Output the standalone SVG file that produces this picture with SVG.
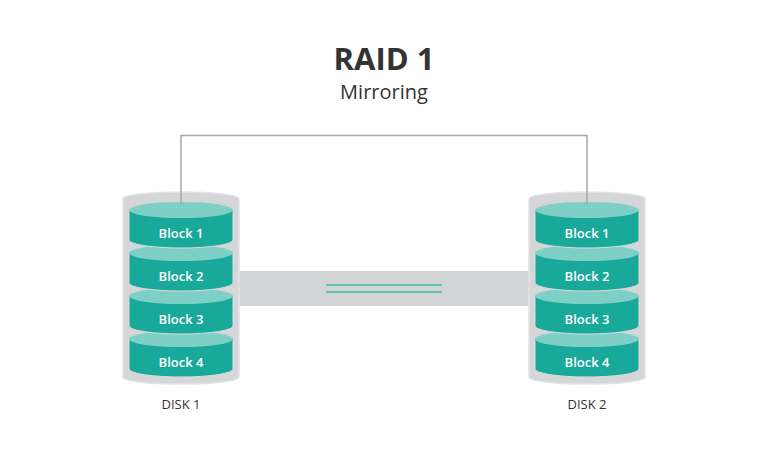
<svg xmlns="http://www.w3.org/2000/svg" width="768" height="450" viewBox="0 0 768 450">
<style>
.title{font-family:"Open Sans","Liberation Sans",sans-serif;font-weight:bold;font-size:31px;fill:#333333;text-anchor:middle}
.sub{font-family:"Open Sans","Liberation Sans",sans-serif;font-size:20px;fill:#333333;text-anchor:middle}
.blk{font-family:"Open Sans","Liberation Sans",sans-serif;font-size:13px;font-weight:600;fill:#ffffff;text-anchor:middle}
.dlabel{font-family:"Open Sans","Liberation Sans",sans-serif;font-size:13px;fill:#333333;text-anchor:middle}
.shell{fill:#d5d6d8;stroke:#e2e3e4;stroke-width:1.5}
.body{fill:#18a99b;stroke:#dcdcdc;stroke-width:1}
.top{fill:#7ecfc6}
.conn{fill:none;stroke:#a8a8a8;stroke-width:1.5}
.mirror{stroke:#5cc1b6;stroke-width:2.2}
</style>
<defs>
<g id="block">
<path class="body" d="M-52,0 V30 A52,8 0 0 0 52,30 V0 Z"/>
<ellipse class="top" cx="0" cy="0" rx="52" ry="8"/>
</g>
</defs>
<rect width="768" height="450" fill="#ffffff"/>
<text class="title" x="384" y="70">RAID 1</text>
<text class="sub" x="384" y="99">Mirroring</text>
<rect id="band" x="236" y="271" width="296" height="35" fill="#d3d4d6"/>
<g id="disk1">
<path class="shell" d="M123,199 A58,7 0 0 1 239,199 V377 A58,7 0 0 1 123,377 Z"/>
<use href="#block" x="181" y="339"/>
<use href="#block" x="181" y="296"/>
<use href="#block" x="181" y="253"/>
<use href="#block" x="181" y="210"/>
<text class="blk" x="181" y="238">Block 1</text>
<text class="blk" x="181" y="281">Block 2</text>
<text class="blk" x="181" y="324">Block 3</text>
<text class="blk" x="181" y="367">Block 4</text>
<text class="dlabel" x="181" y="409">DISK 1</text>
</g>
<g id="disk2">
<path class="shell" d="M529,199 A58,7 0 0 1 645,199 V377 A58,7 0 0 1 529,377 Z"/>
<use href="#block" x="587" y="339"/>
<use href="#block" x="587" y="296"/>
<use href="#block" x="587" y="253"/>
<use href="#block" x="587" y="210"/>
<text class="blk" x="587" y="238">Block 1</text>
<text class="blk" x="587" y="281">Block 2</text>
<text class="blk" x="587" y="324">Block 3</text>
<text class="blk" x="587" y="367">Block 4</text>
<text class="dlabel" x="587" y="409">DISK 2</text>
</g>
<g id="connectors">
<polyline class="conn" points="181,205 181,135.5 587,135.5 587,205"/>
<line class="mirror" x1="326" y1="285" x2="442" y2="285"/>
<line class="mirror" x1="326" y1="292" x2="442" y2="292"/>
</g>
</svg>
